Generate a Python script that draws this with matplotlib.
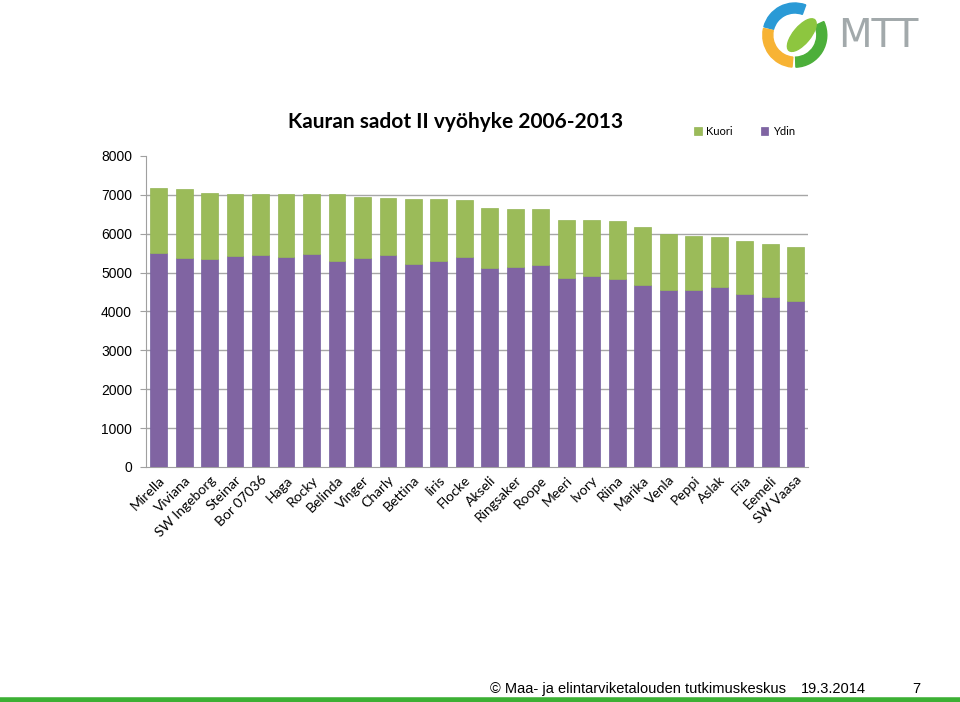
import numpy as np
import matplotlib.pyplot as plt
from matplotlib.patches import Wedge, Ellipse

# lajikkeet ja sadot (kg/ha)
varieties = ['Mirella', 'Viviana', 'SW Ingeborg', 'Steinar', 'Bor 07036', 'Haga', 'Rocky',
             'Belinda', 'Vinger', 'Charly', 'Bettina', 'Iiris', 'Flocke', 'Akseli',
             'Ringsaker', 'Roope', 'Meeri', 'Ivory', 'Riina', 'Marika', 'Venla', 'Peppi',
             'Aslak', 'Fiia', 'Eemeli', 'SW Vaasa']
ydin = [5500, 5375, 5345, 5425, 5450, 5400, 5475, 5300, 5375, 5450, 5220, 5300, 5400,
        5115, 5140, 5195, 4860, 4910, 4835, 4680, 4550, 4550, 4625, 4450, 4370, 4270]
total = [7170, 7145, 7045, 7020, 7020, 7020, 7020, 7020, 6940, 6915, 6890, 6890, 6865,
         6660, 6635, 6630, 6350, 6350, 6325, 6170, 5990, 5940, 5915, 5810, 5735, 5655]
kuori = [t - y for t, y in zip(total, ydin)]

GREEN = '#9BBB59'
PURPLE = '#8064A2'

fig = plt.figure(figsize=(9.6, 7.02), dpi=100)
ax = fig.add_axes([0.152, 0.3348, 0.69, 0.443])

x = np.arange(len(varieties))
ax.bar(x, ydin, width=0.66, color=PURPLE, edgecolor='#7560A0', linewidth=0.5, label='Ydin', zorder=3)
ax.bar(x, kuori, bottom=ydin, width=0.66, color=GREEN, edgecolor='#93B556', linewidth=0.5,
       label='Kuori', zorder=3)

ax.set_xlim(-0.5, len(varieties) - 0.5)
ax.set_ylim(0, 8000)
ax.set_yticks(range(0, 8001, 1000))
ax.tick_params(axis='y', labelsize=10, length=4, color='#A0A0A0', pad=6)
for lab in ax.get_yticklabels():
    lab.set_family('Liberation Sans')
ax.set_xticks(x)
ax.set_xticklabels(varieties, rotation=45, ha='right', rotation_mode='anchor',
                   fontsize=10, family='Lato')
ax.tick_params(axis='x', length=0, pad=5)

# gridlines 1000..7000 only (no line at the top)
for yv in range(1000, 8000, 1000):
    ax.axhline(yv, color='#A6A6A6', linewidth=1, zorder=0)
for s in ['top', 'right']:
    ax.spines[s].set_visible(False)
ax.spines['left'].set_color('#A0A0A0')
ax.spines['bottom'].set_color('#A0A0A0')

handles, labels = ax.get_legend_handles_labels()
ax.legend(handles[::-1], labels[::-1], loc='upper right', bbox_to_anchor=(0.995, 1.13),
          ncol=2, frameon=False, handlelength=0.7, handleheight=0.7,
          columnspacing=2.5, handletextpad=0.4, prop={'family': 'Lato', 'size': 8})

fig.text(0.475, 0.826, 'Kauran sadot II vyöhyke 2006-2013', ha='center', va='center',
         fontsize=15, fontweight='bold', family='Lato')

# footer
fig.text(0.51, 0.019, '\u00a9 Maa- ja elintarviketalouden tutkimuskeskus', ha='left', va='center',
         fontsize=10.5, family='Liberation Sans')
fig.text(0.834, 0.019, '19.3.2014', ha='left', va='center', fontsize=10.5, family='Liberation Sans')
fig.text(0.955, 0.019, '7', ha='center', va='center', fontsize=10.5, family='Liberation Sans')
fig.add_artist(plt.Line2D([0, 1], [0.003, 0.003], color='#3CB034', linewidth=4,
                          transform=fig.transFigure))

# logo (axes in pixel-like units)
lax = fig.add_axes([0.78, 0.89, 0.2, 0.11])
lax.set_xlim(0, 192)
lax.set_ylim(0, 77)
lax.axis('off')
lax.add_patch(Wedge((46, 42), 32, 70, 165, width=10, color='#2A9AD6'))
lax.add_patch(Wedge((46, 42), 32, 168, 265, width=10, color='#F7B334'))
lax.add_patch(Wedge((46, 42), 32, 272, 25, width=10, color='#4CAF3A'))
lax.add_patch(Ellipse((53, 42), 17, 40, angle=-40, color='#8DC63F'))
lax.text(89, 41, 'MTT', fontsize=28, color='#A2A9AB', va='center', ha='left',
         family='DejaVu Sans')

fig.savefig('out.png', dpi=100)
